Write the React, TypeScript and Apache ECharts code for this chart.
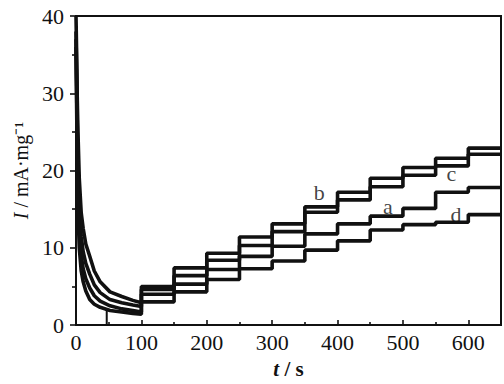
import React, { useEffect, useRef } from "react";
import * as echarts from "echarts";

// Time points (s) of the initial decay
const decayT = [0, 1, 2, 3, 5, 8, 11, 15, 21, 28, 37, 52, 70, 87, 100];
const decayB = [40, 35, 29, 25, 19, 14.5, 12.5, 10.5, 8.9, 7.0, 5.6, 4.3, 3.7, 3.2, 2.9];
const decayC = [38, 32, 26, 21, 15.5, 11.5, 9.5, 8.0, 6.6, 5.2, 4.2, 3.3, 2.9, 2.6, 2.4];
const decayA = [37, 30, 23, 18, 12.5, 9.0, 7.3, 6.0, 4.8, 3.8, 3.1, 2.5, 2.1, 1.9, 1.7];
const decayD = [36, 28, 20, 15, 10, 7.0, 5.6, 4.4, 3.3, 2.7, 2.3, 1.9, 1.7, 1.5, 1.4];

// Step start times (s) and the current level on each step (mA/mg)
const stepStarts = [100, 150, 200, 250, 300, 350, 400, 450, 500, 550, 600];
const endTime = 650;
const levelsB = [5.0, 7.4, 9.3, 11.4, 13.1, 15.3, 17.2, 19.0, 20.4, 21.6, 22.9];
const levelsC = [4.6, 6.4, 8.4, 10.3, 12.1, 14.6, 16.2, 17.9, 19.4, 20.6, 22.1];
const levelsA = [4.0, 5.3, 7.2, 8.9, 10.2, 11.8, 13.1, 14.1, 15.1, 17.2, 17.8];
const levelsD = [3.0, 4.3, 5.9, 7.3, 8.3, 9.7, 10.9, 12.3, 13.0, 13.3, 14.3];

// Short drop to zero in the lowest curve near t = 47 s
const dropData = [[47, 2.0], [47, 0]];

// Curve labels: [name, t, I]
const curveLabels: [string, number, number][] = [
  ["b", 372, 17.1],
  ["a", 477, 15.4],
  ["c", 574, 19.6],
  ["d", 581, 14.3],
];

const xTicks = [0, 100, 200, 300, 400, 500, 600];

function buildSeries(decay: number[], levels: number[]) {
  const pts: number[][] = decayT.map((t, i) => [t, decay[i]]);
  levels.forEach((v, i) => {
    const s = stepStarts[i];
    const e = i + 1 < stepStarts.length ? stepStarts[i + 1] : endTime;
    pts.push([s, v], [e, v]);
  });
  return pts;
}

const FONT = "Liberation Serif";
const INK = "#111";

export default function App() {
  const ref = useRef<HTMLDivElement>(null);
  useEffect(() => {
    if (!ref.current) return;
    const chart = echarts.init(ref.current, undefined, { renderer: "svg" });
    const lineSeries = (name: string, data: number[][]) => ({
      name,
      type: "line",
      data,
      showSymbol: false,
      symbol: "none",
      lineStyle: { color: INK, width: 3.6 },
      itemStyle: { color: INK },
      z: 3,
    });
    const series: any[] = [
      lineSeries("b", buildSeries(decayB, levelsB)),
      lineSeries("c", buildSeries(decayC, levelsC)),
      lineSeries("a", buildSeries(decayA, levelsA)),
      lineSeries("d", buildSeries(decayD, levelsD)),
      { ...lineSeries("drop", dropData), lineStyle: { color: INK, width: 2 } },
      {
        name: "labels",
        type: "scatter",
        symbolSize: 0,
        data: curveLabels.map(([n, t, v]) => ({ value: [t, v], name: n })),
        label: {
          show: true,
          position: "inside",
          formatter: (p: any) => p.name,
          fontFamily: FONT,
          fontSize: 22,
          color: INK,
        },
        z: 5,
      },
    ];
    chart.setOption({
      animation: false,
      backgroundColor: "#fff",
      grid: {
        left: 76,
        right: 2,
        top: 16,
        bottom: 50,
        show: true,
        borderColor: INK,
        borderWidth: 2,
        backgroundColor: "transparent",
      },
      xAxis: {
        type: "value",
        min: 0,
        max: endTime,
        interval: 100,
        name: "{i|t} / s",
        nameLocation: "middle",
        nameGap: 29,
        nameTextStyle: {
          fontFamily: FONT,
          fontSize: 21,
          fontWeight: "bold",
          color: INK,
          rich: {
            i: { fontFamily: FONT, fontSize: 21, fontStyle: "italic", fontWeight: "bold", color: INK },
          },
        },
        axisLine: { show: true, lineStyle: { color: INK, width: 2 } },
        axisTick: { show: true, inside: true, length: 5, lineStyle: { color: INK, width: 1.6 } },
        minorTick: { show: true, splitNumber: 2, length: 3, lineStyle: { color: INK, width: 1.6 } },
        splitLine: { show: false },
        minorSplitLine: { show: false },
        axisLabel: {
          fontFamily: FONT,
          fontSize: 22,
          color: INK,
          margin: 6,
          formatter: (v: number) => (xTicks.includes(v) ? String(v) : ""),
        },
      },
      yAxis: {
        type: "value",
        min: 0,
        max: 40,
        interval: 10,
        name: "{i|I} / mA·mg⁻¹",
        nameLocation: "middle",
        nameGap: 42,
        nameTextStyle: {
          fontFamily: FONT,
          fontSize: 20,
          color: INK,
          rich: {
            i: { fontFamily: FONT, fontSize: 20, fontStyle: "italic", color: INK },
          },
        },
        axisLine: { show: true, lineStyle: { color: INK, width: 2 } },
        axisTick: { show: true, inside: false, length: 6, lineStyle: { color: INK, width: 1.6 } },
        minorTick: { show: true, splitNumber: 2, length: 4, lineStyle: { color: INK, width: 1.6 } },
        splitLine: { show: false },
        minorSplitLine: { show: false },
        axisLabel: { fontFamily: FONT, fontSize: 22, color: INK, margin: 12 },
      },
      series,
    });
    return () => chart.dispose();
  }, []);
  return (
    <div
      ref={ref}
      style={{ position: "fixed", left: 0, top: 0, width: 504, height: 384, background: "#fff" }}
    />
  );
}
